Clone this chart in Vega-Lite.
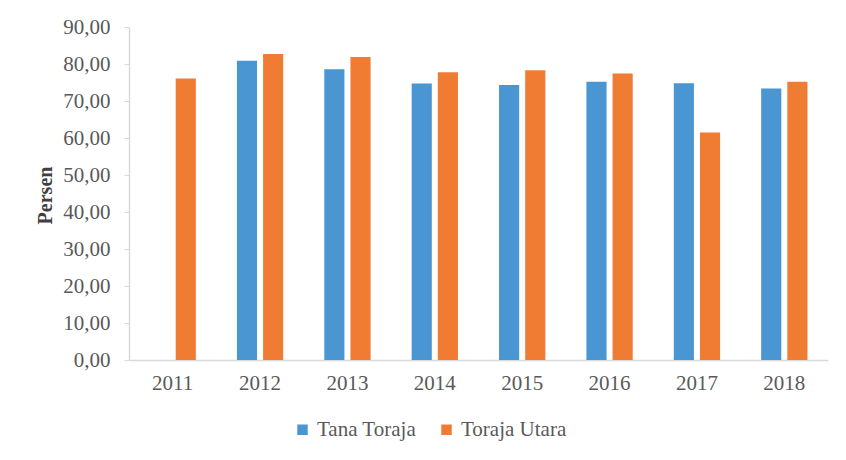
{
  "$schema": "https://vega.github.io/schema/vega-lite/v6.json",
  "autosize": "none",
  "width": 699,
  "height": 333,
  "padding": {"left": 129, "top": 27, "right": 18, "bottom": 100},
  "background": "white",
  "data": {
    "values": [
      {"year": "2011", "region": "Toraja Utara", "value": 76.1},
      {"year": "2012", "region": "Tana Toraja", "value": 80.9},
      {"year": "2012", "region": "Toraja Utara", "value": 82.7},
      {"year": "2013", "region": "Tana Toraja", "value": 78.6},
      {"year": "2013", "region": "Toraja Utara", "value": 81.9},
      {"year": "2014", "region": "Tana Toraja", "value": 74.7},
      {"year": "2014", "region": "Toraja Utara", "value": 77.8},
      {"year": "2015", "region": "Tana Toraja", "value": 74.3},
      {"year": "2015", "region": "Toraja Utara", "value": 78.3},
      {"year": "2016", "region": "Tana Toraja", "value": 75.2},
      {"year": "2016", "region": "Toraja Utara", "value": 77.4},
      {"year": "2017", "region": "Tana Toraja", "value": 74.8},
      {"year": "2017", "region": "Toraja Utara", "value": 61.5},
      {"year": "2018", "region": "Tana Toraja", "value": 73.4},
      {"year": "2018", "region": "Toraja Utara", "value": 75.2}
    ]
  },
  "mark": {"type": "bar"},
  "encoding": {
    "x": {
      "field": "year",
      "type": "nominal",
      "scale": {"paddingInner": 0.47, "paddingOuter": 0.235},
      "axis": {
        "title": null,
        "labelAngle": 0,
        "labelFont": "Liberation Serif",
        "labelFontSize": 21,
        "labelColor": "#595959",
        "labelPadding": 12,
        "ticks": false,
        "domainColor": "#d9d9d9",
        "domainWidth": 1.5
      }
    },
    "xOffset": {
      "field": "region",
      "type": "nominal",
      "scale": {"domain": ["Tana Toraja", "Toraja Utara"], "paddingInner": 0.23, "paddingOuter": 0}
    },
    "y": {
      "field": "value",
      "type": "quantitative",
      "scale": {"domain": [0, 90], "nice": false},
      "axis": {
        "title": "Persen",
        "titleFont": "Liberation Serif",
        "titleFontSize": 20,
        "titleFontWeight": "bold",
        "titleColor": "#404040",
        "titleX": -84,
        "titleY": 168,
        "titleAngle": -90,
        "titleAlign": "center",
        "titleBaseline": "middle",
        "values": [0, 10, 20, 30, 40, 50, 60, 70, 80, 90],
        "labelExpr": "replace(format(datum.value, '.2f'), '.', ',')",
        "labelFont": "Liberation Serif",
        "labelFontSize": 21,
        "labelColor": "#595959",
        "labelPadding": 14,
        "grid": false,
        "tickSize": 5,
        "tickColor": "#d9d9d9",
        "domainColor": "#d9d9d9",
        "domainWidth": 1.5
      }
    },
    "color": {
      "field": "region",
      "type": "nominal",
      "scale": {"domain": ["Tana Toraja", "Toraja Utara"], "range": ["#4a96d2", "#f07c33"]},
      "legend": {
        "title": null,
        "orient": "none",
        "direction": "horizontal",
        "legendX": 163,
        "legendY": 392,
        "symbolType": "square",
        "symbolSize": 110,
        "symbolStrokeWidth": 0,
        "labelFont": "Liberation Serif",
        "labelFontSize": 21,
        "labelColor": "#595959",
        "labelOffset": 4,
        "columnPadding": 19
      }
    }
  },
  "config": {
    "view": {"stroke": null}
  }
}
